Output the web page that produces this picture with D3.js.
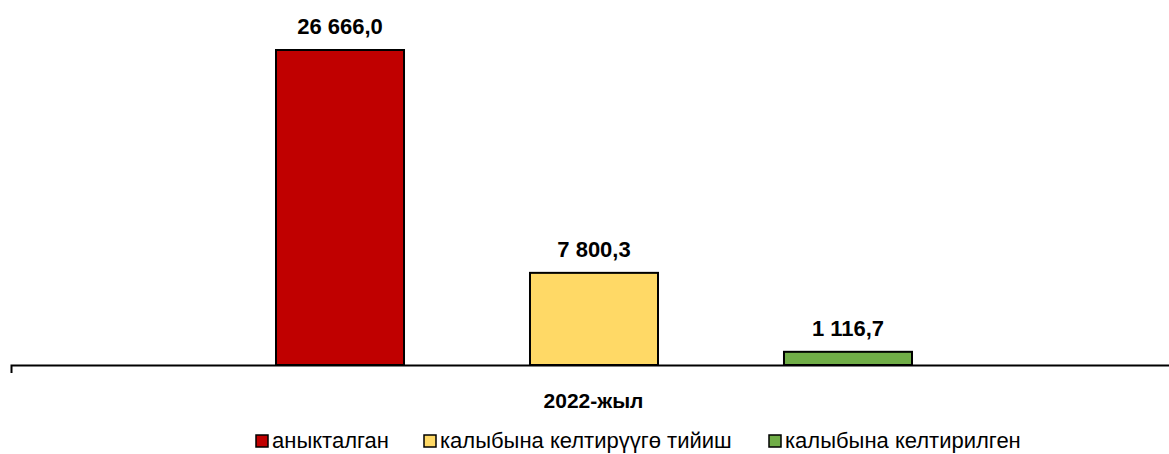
<!DOCTYPE html>
<html>
<head>
<meta charset="utf-8">
<script src="https://cdn.jsdelivr.net/npm/d3@7"></script>
<style>
  body { margin: 0; background: #fff; }
  svg { display: block; font-family: "Liberation Sans", Arial, sans-serif; }
</style>
</head>
<body>
<div id="chart"></div>
<script>
'use strict';
const categories = ["2022-жыл"];
const seriesNames = ["аныкталган", "калыбына келтирүүгө тийиш", "калыбына келтирилген"];
const seriesValues = [26666.0, 7800.3, 1116.7];
const seriesColors = ["#c00000", "#ffd966", "#70ad47"];

function drawBars(divId) {
  let width = 1169, height = 454;
  let baseY = 365, topY = 50;
  let svg = d3.select("#" + divId).append("svg")
    .attr("width", width)
    .attr("height", height);

  // outer band (one category), inner band for series
  let x0 = d3.scaleBand().domain(categories).range([11, 1176]);
  let x1 = d3.scaleBand().domain(seriesNames)
    .range([276, 912])
    .paddingInner(0.496);
  let y = d3.scaleLinear().domain([0, d3.max(seriesValues)]).range([baseY, topY]);

  let fmt = function (v) {
    return d3.format(",.1f")(v).replace(/,/g, " ").replace(".", ",");
  };

  let bars = svg.append("g");
  bars.selectAll("rect")
    .data(seriesNames)
    .enter()
    .append("rect")
    .attr("x", function (d) { return x1(d); })
    .attr("y", function (d, i) { return y(seriesValues[i]); })
    .attr("width", x1.bandwidth())
    .attr("height", function (d, i) { return baseY - y(seriesValues[i]); })
    .attr("fill", function (d, i) { return seriesColors[i]; })
    .attr("stroke", "#000")
    .attr("stroke-width", 2);

  bars.selectAll("text")
    .data(seriesNames)
    .enter()
    .append("text")
    .attr("x", function (d) { return x1(d) + x1.bandwidth() / 2; })
    .attr("y", function (d, i) { return y(seriesValues[i]) - 16; })
    .attr("text-anchor", "middle")
    .attr("font-size", "22px")
    .attr("font-weight", "bold")
    .text(function (d, i) { return fmt(seriesValues[i]); });

  // x axis
  let xAxis = d3.axisBottom(x0).tickValues([]).tickSizeOuter(8);
  let axisG = svg.append("g")
    .attr("transform", "translate(0," + baseY + ")")
    .call(xAxis);
  axisG.select(".domain").attr("stroke", "#000").attr("stroke-width", 2);

  svg.append("text")
    .attr("x", x0(categories[0]) + x0.bandwidth() / 2)
    .attr("y", 408)
    .attr("text-anchor", "middle")
    .attr("font-size", "21px")
    .attr("font-weight", "bold")
    .text(categories[0]);

  // legend
  let legendX = [256, 424, 769];
  let legend = svg.append("g");
  seriesNames.forEach(function (key, i) {
    legend.append("rect")
      .attr("x", legendX[i])
      .attr("y", 435)
      .attr("width", 12)
      .attr("height", 12)
      .attr("fill", seriesColors[i])
      .attr("stroke", "#000")
      .attr("stroke-width", 1.5);
    legend.append("text")
      .attr("x", legendX[i] + 16)
      .attr("y", 448)
      .attr("font-size", "22px")
      .text(key);
  });
}
drawBars("chart");
</script>
</body>
</html>
